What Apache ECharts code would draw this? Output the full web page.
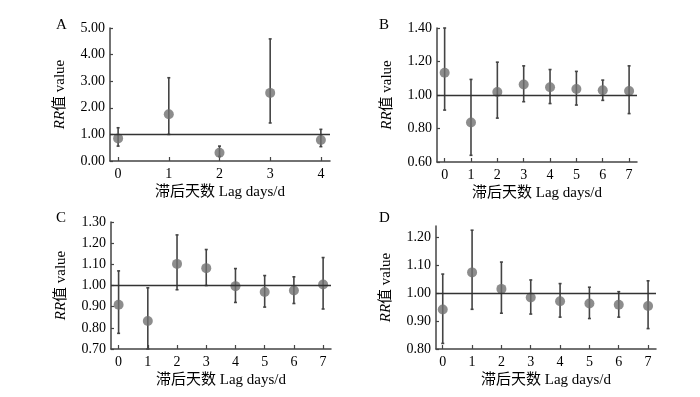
<!DOCTYPE html>
<html><head><meta charset="utf-8">
<script src="https://cdn.jsdelivr.net/npm/echarts@6/dist/echarts.min.js"></script>
<style>html,body{margin:0;padding:0;background:#fff}#c{width:700px;height:397px}</style>
</head><body><div id="c"></div>
<script>
// Panel A
const lagsA = [0, 1, 2, 3, 4];
const rrA   = [0.85, 1.76, 0.31, 2.56, 0.79];
const lowA  = [0.56, 1.00, 0.17, 1.43, 0.54];
const highA = [1.25, 3.13, 0.56, 4.59, 1.19];
const yTicksA = [0, 1, 2, 3, 4, 5];
// Panel B
const lagsB = [0, 1, 2, 3, 4, 5, 6, 7];
const rrB   = [1.133, 0.836, 1.018, 1.063, 1.046, 1.036, 1.028, 1.024];
const lowB  = [0.910, 0.640, 0.862, 0.960, 0.949, 0.940, 0.968, 0.889];
const highB = [1.400, 1.093, 1.196, 1.174, 1.152, 1.141, 1.089, 1.174];
const yTicksB = [0.6, 0.8, 1.0, 1.2, 1.4];
// Panel C
const lagsC = [0, 1, 2, 3, 4, 5, 6, 7];
const rrC   = [0.909, 0.832, 1.102, 1.082, 0.997, 0.969, 0.976, 1.005];
const lowC  = [0.774, 0.700, 0.980, 1.000, 0.920, 0.898, 0.915, 0.889];
const highC = [1.069, 0.989, 1.239, 1.170, 1.080, 1.047, 1.041, 1.132];
const yTicksC = [0.7, 0.8, 0.9, 1.0, 1.1, 1.2, 1.3];
// Panel D
const lagsD = [0, 1, 2, 3, 4, 5, 6, 7];
const rrD   = [0.941, 1.074, 1.015, 0.984, 0.971, 0.963, 0.958, 0.954];
const lowD  = [0.820, 0.942, 0.928, 0.925, 0.914, 0.909, 0.914, 0.873];
const highD = [1.068, 1.225, 1.111, 1.047, 1.034, 1.021, 1.005, 1.044];
const yTicksD = [0.8, 0.9, 1.0, 1.1, 1.2];

const panelLetters = ['A', 'B', 'C', 'D'];
const xName = '滞后天数 Lag days/d';

const FONT = '"Liberation Serif", "Times New Roman", "Noto Sans CJK SC", serif';
const AXIS_COLOR = '#444';
const TEXT_COLOR = '#000';

const panels = [
  {lags: lagsA, rr: rrA, lo: lowA, hi: highA, yt: yTicksA, ymin: 0, ymax: 5, xmin: -0.16, xmax: 4.18,
   grid: {left: 110, right: 370, top: 28, bottom: 236}, title: {left: 51, top: 13}},
  {lags: lagsB, rr: rrB, lo: lowB, hi: highB, yt: yTicksB, ymin: 0.6, ymax: 1.4, xmin: -0.29, xmax: 7.3,
   grid: {left: 437, right: 63, top: 28, bottom: 235}, title: {left: 374, top: 13}},
  {lags: lagsC, rr: rrC, lo: lowC, hi: highC, yt: yTicksC, ymin: 0.7, ymax: 1.3, xmin: -0.26, xmax: 7.27,
   grid: {left: 111, right: 369, top: 222, bottom: 48}, title: {left: 51, top: 206}},
  {lags: lagsD, rr: rrD, lo: lowD, hi: highD, yt: yTicksD, ymin: 0.8, ymax: 1.24, xmin: -0.23, xmax: 7.27,
   grid: {left: 436, right: 44, top: 226, bottom: 48}, title: {left: 374, top: 206}}
];

const grids = [], xAxes = [], yAxes = [], series = [], titles = [];
panels.forEach((p, i) => {
  grids.push(Object.assign({containLabel: false}, p.grid));
  titles.push({text: panelLetters[i], left: p.title.left, top: p.title.top,
    textStyle: {fontFamily: FONT, fontSize: 15, fontWeight: 'normal', color: TEXT_COLOR}});
  xAxes.push({
    type: 'value', gridIndex: i, min: p.xmin, max: p.xmax,
    name: xName, nameLocation: 'middle', nameGap: 24,
    nameTextStyle: {fontFamily: FONT, fontSize: 15, color: TEXT_COLOR},
    axisLine: {show: true, onZero: false, lineStyle: {color: AXIS_COLOR, width: 1.5}},
    axisTick: {show: true, inside: true, length: 4, customValues: p.lags, lineStyle: {color: AXIS_COLOR, width: 1.2}},
    axisLabel: {customValues: p.lags, fontFamily: FONT, fontSize: 14, color: TEXT_COLOR, margin: 6},
    splitLine: {show: false}
  });
  yAxes.push({
    type: 'value', gridIndex: i, min: p.ymin, max: p.ymax,
    name: '{i|RR}值 value', nameLocation: 'middle', nameGap: 42, nameRotate: 90,
    nameTextStyle: {fontFamily: FONT, fontSize: 15, color: TEXT_COLOR,
      rich: {i: {fontFamily: FONT, fontSize: 15, fontStyle: 'italic', color: TEXT_COLOR}}},
    axisLine: {show: true, onZero: false, lineStyle: {color: AXIS_COLOR, width: 1.5}},
    axisTick: {show: true, inside: true, length: 3, customValues: p.yt, lineStyle: {color: AXIS_COLOR, width: 1.2}},
    axisLabel: {customValues: p.yt, fontFamily: FONT, fontSize: 14, color: TEXT_COLOR, margin: 5,
      formatter: v => Number(v).toFixed(2)},
    splitLine: {show: false}
  });
  // reference line at RR = 1
  series.push({
    type: 'line', xAxisIndex: i, yAxisIndex: i, data: [], z: 1,
    markLine: {silent: true, symbol: 'none', label: {show: false},
      lineStyle: {color: '#333', width: 1.3, type: 'solid'}, data: [{yAxis: 1}], animation: false}
  });
  // error bars with tiny caps
  series.push({
    type: 'custom', xAxisIndex: i, yAxisIndex: i, z: 2,
    data: p.lags.map((x, k) => [x, p.lo[k], p.hi[k]]),
    renderItem: (params, api) => {
      const a = api.coord([api.value(0), api.value(1)]);
      const b = api.coord([api.value(0), api.value(2)]);
      const st = {stroke: '#444', lineWidth: 1.6};
      return {type: 'group', children: [
        {type: 'line', shape: {x1: a[0], y1: a[1], x2: b[0], y2: b[1]}, style: st},
        {type: 'line', shape: {x1: a[0] - 1.5, y1: a[1], x2: a[0] + 1.5, y2: a[1]}, style: st},
        {type: 'line', shape: {x1: b[0] - 1.5, y1: b[1], x2: b[0] + 1.5, y2: b[1]}, style: st}
      ]};
    },
    animation: false
  });
  // point estimates
  series.push({
    type: 'scatter', xAxisIndex: i, yAxisIndex: i, z: 3,
    symbol: 'circle', symbolSize: 10,
    itemStyle: {color: '#707070'},
    data: p.lags.map((x, k) => [x, p.rr[k]]),
    animation: false
  });
});

const chart = echarts.init(document.getElementById('c'), null, {renderer: 'canvas'});
chart.setOption({
  backgroundColor: '#fff',
  animation: false,
  title: titles,
  grid: grids,
  xAxis: xAxes,
  yAxis: yAxes,
  series: series
});
</script></body></html>
